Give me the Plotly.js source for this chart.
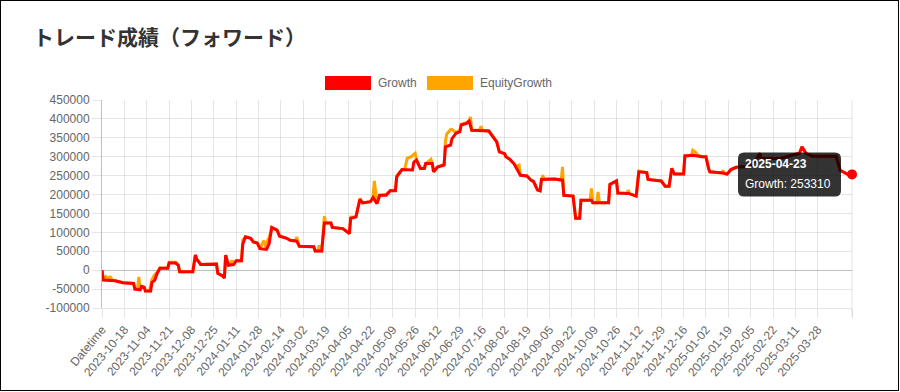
<!DOCTYPE html>
<html><head><meta charset="utf-8">
<script src="https://cdn.plot.ly/plotly-3.0.1.min.js"></script>
<style>
html,body{margin:0;padding:0;background:#fff;}
#chart{position:absolute;left:0;top:0;width:900px;height:392px;}
#frame{position:absolute;left:0;top:0;width:899px;height:391px;box-sizing:border-box;border:1px solid #000;pointer-events:none;}
</style></head><body>
<div id="chart"></div><div id="frame"></div>
<script>
const chartTitle = 'トレード成績（フォワード）';
const seriesNames = ['Growth', 'EquityGrowth'];
const seriesColors = ['#ff0000', '#ffa500'];

const growth = [
['2023-10-01',0],['2023-10-02',-26000],['2023-10-11',-28000],['2023-10-13',-30000],['2023-10-17',-33000],
['2023-10-25',-35000],['2023-10-26',-50000],['2023-10-30',-52000],['2023-10-31',-43000],['2023-11-02',-45000],
['2023-11-03',-55000],['2023-11-07',-55000],['2023-11-08',-32000],['2023-11-10',-27000],['2023-11-12',-8000],
['2023-11-14',5000],['2023-11-20',5000],['2023-11-21',19000],['2023-11-26',19000],['2023-11-28',13000],
['2023-11-29',-4000],['2023-12-09',-4000],['2023-12-11',40000],['2023-12-12',29000],['2023-12-15',15000],
['2023-12-27',16000],['2023-12-28',-8000],['2024-01-01',-16000],['2024-01-02',-21000],['2024-01-03',40000],
['2024-01-05',13000],['2024-01-09',15000],['2024-01-11',25000],['2024-01-15',25000],['2024-01-16',69000],
['2024-01-18',88000],['2024-01-22',84000],['2024-01-24',75000],['2024-01-27',72000],['2024-01-29',57000],
['2024-02-03',55000],['2024-02-05',70000],['2024-02-07',113000],['2024-02-11',106000],['2024-02-13',90000],
['2024-02-18',85000],['2024-02-21',79000],['2024-02-26',77000],['2024-02-28',63000],['2024-03-10',62000],
['2024-03-11',51000],['2024-03-16',51000],['2024-03-18',125000],['2024-03-23',125000],['2024-03-24',113000],
['2024-04-01',110000],['2024-04-06',97000],['2024-04-07',137000],['2024-04-11',141000],['2024-04-14',187000],
['2024-04-16',178000],['2024-04-22',181000],['2024-04-24',192000],['2024-04-27',176000],['2024-04-29',198000],
['2024-05-04',198000],['2024-05-07',210000],['2024-05-11',210000],['2024-05-12',247000],['2024-05-16',266000],
['2024-05-24',265000],['2024-05-25',286000],['2024-05-27',291000],['2024-05-30',269000],['2024-06-02',269000],
['2024-06-03',282000],['2024-06-08',282000],['2024-06-09',260000],['2024-06-12',273000],['2024-06-17',278000],
['2024-06-18',326000],['2024-06-22',331000],['2024-06-23',348000],['2024-06-26',362000],['2024-06-29',366000],
['2024-06-30',384000],['2024-07-04',388000],['2024-07-06',394000],['2024-07-08',370000],['2024-07-21',368000],
['2024-07-24',353000],['2024-07-27',339000],['2024-07-29',313000],['2024-08-02',308000],['2024-08-03',300000],
['2024-08-06',293000],['2024-08-09',282000],['2024-08-11',269000],['2024-08-14',251000],['2024-08-19',249000],
['2024-08-22',238000],['2024-08-24',234000],['2024-08-27',212000],['2024-08-29',210000],['2024-08-30',240000],
['2024-09-09',241000],['2024-09-15',238000],['2024-09-16',198000],['2024-09-23',196000],['2024-09-25',137000],
['2024-09-28',137000],['2024-09-29',185000],['2024-10-07',185000],['2024-10-08',178000],['2024-10-20',178000],
['2024-10-21',227000],['2024-10-26',236000],['2024-10-27',204000],['2024-11-04',203000],['2024-11-10',196000],
['2024-11-12',260000],['2024-11-18',258000],['2024-11-19',240000],['2024-11-29',236000],['2024-12-02',222000],
['2024-12-05',222000],['2024-12-07',269000],['2024-12-09',254000],['2024-12-16',254000],['2024-12-17',302000],
['2024-12-23',304000],['2024-12-30',300000],['2025-01-02',300000],['2025-01-04',269000],['2025-01-05',260000],
['2025-01-15',257000],['2025-01-18',254000],['2025-01-21',266000],['2025-01-25',272000],['2025-02-05',275000],
['2025-02-09',291000],['2025-02-12',309000],['2025-02-13',295000],['2025-02-27',295000],['2025-03-05',301000],
['2025-03-14',309000],['2025-03-16',326000],['2025-03-19',309000],['2025-03-24',301000],['2025-04-11',301000],
['2025-04-14',264000],['2025-04-20',253000],['2025-04-23',253310]
];

const equity = [
['2023-10-01',0],['2023-10-02',-26000],['2023-10-04',-17000],['2023-10-06',-25000],['2023-10-07',-16000],
['2023-10-09',-27000],['2023-10-11',-28000],['2023-10-13',-30000],['2023-10-17',-33000],['2023-10-25',-35000],
['2023-10-26',-50000],['2023-10-28',-50000],['2023-10-29',-18000],['2023-10-30',-52000],['2023-10-31',-43000],
['2023-11-02',-45000],['2023-11-03',-55000],['2023-11-06',-55000],['2023-11-08',-25000],['2023-11-10',-12000],
['2023-11-12',-6000],['2023-11-14',6000],['2023-11-20',6000],['2023-11-21',21000],['2023-11-26',21000],
['2023-11-28',14000],['2023-11-29',-4000],['2023-12-09',-4000],['2023-12-11',40000],['2023-12-12',29000],
['2023-12-15',15000],['2023-12-27',16000],['2023-12-28',-8000],['2024-01-01',-16000],['2024-01-02',-21000],
['2024-01-03',40000],['2024-01-05',13000],['2024-01-08',26000],['2024-01-09',15000],['2024-01-11',25000],
['2024-01-15',25000],['2024-01-16',80000],['2024-01-18',88000],['2024-01-22',84000],['2024-01-24',75000],
['2024-01-27',72000],['2024-01-29',57000],['2024-02-01',78000],['2024-02-03',55000],['2024-02-04',80000],
['2024-02-05',85000],['2024-02-07',113000],['2024-02-11',106000],['2024-02-13',90000],['2024-02-16',88000],
['2024-02-18',85000],['2024-02-21',79000],['2024-02-25',77000],['2024-02-26',88000],['2024-02-27',72000],
['2024-02-28',63000],['2024-03-10',62000],['2024-03-11',51000],['2024-03-13',51000],['2024-03-14',66000],
['2024-03-15',51000],['2024-03-16',51000],['2024-03-18',143000],['2024-03-19',125000],['2024-03-23',125000],
['2024-03-24',113000],['2024-04-01',110000],['2024-04-06',97000],['2024-04-07',140000],['2024-04-11',141000],
['2024-04-14',190000],['2024-04-16',178000],['2024-04-22',181000],['2024-04-24',192000],['2024-04-25',236000],
['2024-04-26',200000],['2024-04-27',176000],['2024-04-29',198000],['2024-05-04',200000],['2024-05-07',210000],
['2024-05-11',212000],['2024-05-12',250000],['2024-05-16',266000],['2024-05-18',266000],['2024-05-20',296000],
['2024-05-23',300000],['2024-05-26',309000],['2024-05-27',291000],['2024-05-30',269000],['2024-06-02',269000],
['2024-06-03',282000],['2024-06-07',293000],['2024-06-08',282000],['2024-06-09',260000],['2024-06-12',273000],
['2024-06-17',280000],['2024-06-18',340000],['2024-06-19',360000],['2024-06-22',372000],['2024-06-23',372000],
['2024-06-26',364000],['2024-06-29',370000],['2024-06-30',386000],['2024-07-04',390000],['2024-07-06',396000],
['2024-07-07',405000],['2024-07-08',370000],['2024-07-14',370000],['2024-07-15',381000],['2024-07-16',370000],
['2024-07-21',368000],['2024-07-24',353000],['2024-07-27',339000],['2024-07-29',313000],['2024-08-02',308000],
['2024-08-03',300000],['2024-08-06',293000],['2024-08-09',282000],['2024-08-11',275000],['2024-08-13',278000],
['2024-08-14',251000],['2024-08-19',249000],['2024-08-22',238000],['2024-08-24',234000],['2024-08-27',212000],
['2024-08-29',210000],['2024-08-30',240000],['2024-08-31',251000],['2024-09-01',241000],['2024-09-09',241000],
['2024-09-14',238000],['2024-09-15',273000],['2024-09-16',198000],['2024-09-23',196000],['2024-09-25',137000],
['2024-09-28',137000],['2024-09-29',185000],['2024-10-06',185000],['2024-10-07',216000],['2024-10-08',178000],
['2024-10-11',178000],['2024-10-12',207000],['2024-10-13',178000],['2024-10-20',178000],['2024-10-21',227000],
['2024-10-26',236000],['2024-10-27',204000],['2024-11-03',203000],['2024-11-04',212000],['2024-11-05',203000],
['2024-11-10',196000],['2024-11-12',262000],['2024-11-18',258000],['2024-11-19',240000],['2024-11-29',236000],
['2024-12-02',222000],['2024-12-05',222000],['2024-12-07',269000],['2024-12-09',254000],['2024-12-16',254000],
['2024-12-17',302000],['2024-12-22',304000],['2024-12-23',317000],['2024-12-25',312000],['2024-12-27',304000],
['2024-12-30',300000],['2025-01-02',300000],['2025-01-04',269000],['2025-01-05',260000],['2025-01-14',257000],
['2025-01-15',264000],['2025-01-16',257000],['2025-01-18',254000],['2025-01-21',266000],['2025-01-25',272000],
['2025-02-05',275000],['2025-02-09',291000],['2025-02-12',309000],['2025-02-13',295000],['2025-02-27',295000],
['2025-03-05',301000],['2025-03-14',309000],['2025-03-16',326000],['2025-03-19',309000],['2025-03-24',301000],
['2025-04-11',301000],['2025-04-14',264000],['2025-04-20',253000],['2025-04-23',253310]
];

const tickDates = ['2023-10-01','2023-10-18','2023-11-04','2023-11-21','2023-12-08','2023-12-25',
'2024-01-11','2024-01-28','2024-02-14','2024-03-02','2024-03-19','2024-04-05','2024-04-22','2024-05-09',
'2024-05-26','2024-06-12','2024-06-29','2024-07-16','2024-08-02','2024-08-19','2024-09-05','2024-09-22',
'2024-10-09','2024-10-26','2024-11-12','2024-11-29','2024-12-16','2025-01-02','2025-01-19','2025-02-05',
'2025-02-22','2025-03-11','2025-03-28','2025-04-23'];
const tickLabels = ['Datetime','2023-10-18','2023-11-04','2023-11-21','2023-12-08','2023-12-25',
'2024-01-11','2024-01-28','2024-02-14','2024-03-02','2024-03-19','2024-04-05','2024-04-22','2024-05-09',
'2024-05-26','2024-06-12','2024-06-29','2024-07-16','2024-08-02','2024-08-19','2024-09-05','2024-09-22',
'2024-10-09','2024-10-26','2024-11-12','2024-11-29','2024-12-16','2025-01-02','2025-01-19','2025-02-05',
'2025-02-22','2025-03-11','2025-03-28',''];
const yTickValues = [-100000,-50000,0,50000,100000,150000,200000,250000,300000,350000,400000,450000];
const yTickLabels = ['-100000','-50000','0','50000','100000','150000','200000','250000','300000','350000','400000','450000'];

// layout geometry (pixels)
const W = 900, H = 392, ML = 102, MR = 48, MT = 100, MB = 84;
const PW = W - ML - MR, PH = H - MT - MB;
const px2x = p => (p - ML) / PW;
const py2y = p => (H - MB - p) / PH;
const yMin = -100000, yMax = 450000;

const FONT = 'Liberation Sans, Arial, Helvetica, sans-serif';
const GRID = 'rgba(0,0,0,0.1)';

const last = growth[growth.length - 1];
const traces = [
  {x: equity.map(d => d[0]), y: equity.map(d => d[1]), name: seriesNames[1], type: 'scatter', mode: 'lines',
   line: {color: seriesColors[1], width: 3}, hoverinfo: 'skip'},
  {x: growth.map(d => d[0]), y: growth.map(d => d[1]), name: seriesNames[0], type: 'scatter', mode: 'lines',
   line: {color: seriesColors[0], width: 3}, hoverinfo: 'skip'},
  {x: [last[0]], y: [last[1]], type: 'scatter', mode: 'markers', showlegend: false, cliponaxis: false,
   marker: {color: seriesColors[0], size: 10}, hoverinfo: 'skip'}
];

function rrect(x0, y0, x1, y1, r) {
  const X = p => px2x(p).toFixed(5), Y = p => py2y(p).toFixed(5);
  return `M${X(x0 + r)},${Y(y0)} L${X(x1 - r)},${Y(y0)} Q${X(x1)},${Y(y0)} ${X(x1)},${Y(y0 + r)} ` +
         `L${X(x1)},${Y(y1 - r)} Q${X(x1)},${Y(y1)} ${X(x1 - r)},${Y(y1)} L${X(x0 + r)},${Y(y1)} ` +
         `Q${X(x0)},${Y(y1)} ${X(x0)},${Y(y1 - r)} L${X(x0)},${Y(y0 + r)} Q${X(x0)},${Y(y0)} ${X(x0 + r)},${Y(y0)} Z`;
}

// tooltip position derived from last point
const ptY = H - MB - (last[1] - yMin) / (yMax - yMin) * PH;
const ptX = ML + PW;
const tipR = ptX - 11, tipL = tipR - 103, tipT = ptY - 22, tipB = ptY + 22;

const legendY0 = 76, legendY1 = 90;
const shapes = [
  {type: 'line', xref: 'paper', yref: 'paper', x0: 1, x1: 1, y0: py2y(H - MB + 9), y1: 1, line: {color: GRID, width: 1}},
  {type: 'rect', xref: 'paper', yref: 'paper', x0: px2x(325), x1: px2x(371), y0: py2y(legendY1), y1: py2y(legendY0),
   fillcolor: seriesColors[0], line: {width: 0}},
  {type: 'rect', xref: 'paper', yref: 'paper', x0: px2x(427), x1: px2x(473), y0: py2y(legendY1), y1: py2y(legendY0),
   fillcolor: seriesColors[1], line: {width: 0}},
  {type: 'path', xref: 'paper', yref: 'paper', path: rrect(tipL, tipT, tipR, tipB, 6),
   fillcolor: 'rgba(0,0,0,0.8)', line: {width: 0}}
];

const annotations = [
  {xref: 'paper', yref: 'paper', x: px2x(376), y: py2y(83.5), xanchor: 'left', yanchor: 'middle', showarrow: false,
   text: seriesNames[0], font: {family: FONT, size: 12, color: '#666'}},
  {xref: 'paper', yref: 'paper', x: px2x(478), y: py2y(83.5), xanchor: 'left', yanchor: 'middle', showarrow: false,
   text: seriesNames[1], font: {family: FONT, size: 12, color: '#666'}},
  {xref: 'paper', yref: 'paper', x: px2x(tipL + 5), y: py2y(tipT + 12), xanchor: 'left', yanchor: 'middle', showarrow: false,
   text: '<b>' + last[0] + '</b>', font: {family: FONT, size: 12, color: '#fff'}},
  {xref: 'paper', yref: 'paper', x: px2x(tipL + 5), y: py2y(tipT + 32), xanchor: 'left', yanchor: 'middle', showarrow: false,
   text: seriesNames[0] + ': ' + last[1], font: {family: FONT, size: 12, color: '#fff'}}
];

const layout = {
  width: W, height: H,
  margin: {l: ML, r: MR, t: MT, b: MB, pad: 0},
  paper_bgcolor: 'rgba(0,0,0,0)', plot_bgcolor: 'rgba(0,0,0,0)',
  showlegend: false,
  title: {text: chartTitle, xref: 'container', yref: 'container', x: 33 / W, xanchor: 'left',
          y: 1 - 38 / H, yanchor: 'middle',
          font: {family: 'Noto Sans CJK JP, sans-serif', size: 21, color: '#333', weight: 'bold'}},
  xaxis: {type: 'date', range: [tickDates[0], last[0]], tickmode: 'array', tickvals: tickDates, ticktext: tickLabels,
          tickangle: -50, ticks: 'outside', ticklen: 9, tickcolor: GRID, showgrid: true, gridcolor: GRID,
          showline: true, linecolor: GRID, zeroline: false,
          tickfont: {family: FONT, size: 12, color: '#666'}},
  yaxis: {range: [yMin, yMax], tickmode: 'array', tickvals: yTickValues, ticktext: yTickLabels,
          ticks: 'outside', ticklen: 9, tickcolor: GRID, showgrid: true, gridcolor: GRID,
          zeroline: true, zerolinecolor: 'rgba(0,0,0,0.25)', zerolinewidth: 1,
          showline: true, linecolor: 'rgba(0,0,0,0.25)',
          tickfont: {family: FONT, size: 12, color: '#666'}},
  shapes: shapes, annotations: annotations
};

Plotly.newPlot('chart', traces, layout, {staticPlot: true, displayModeBar: false});
</script>
</body></html>
